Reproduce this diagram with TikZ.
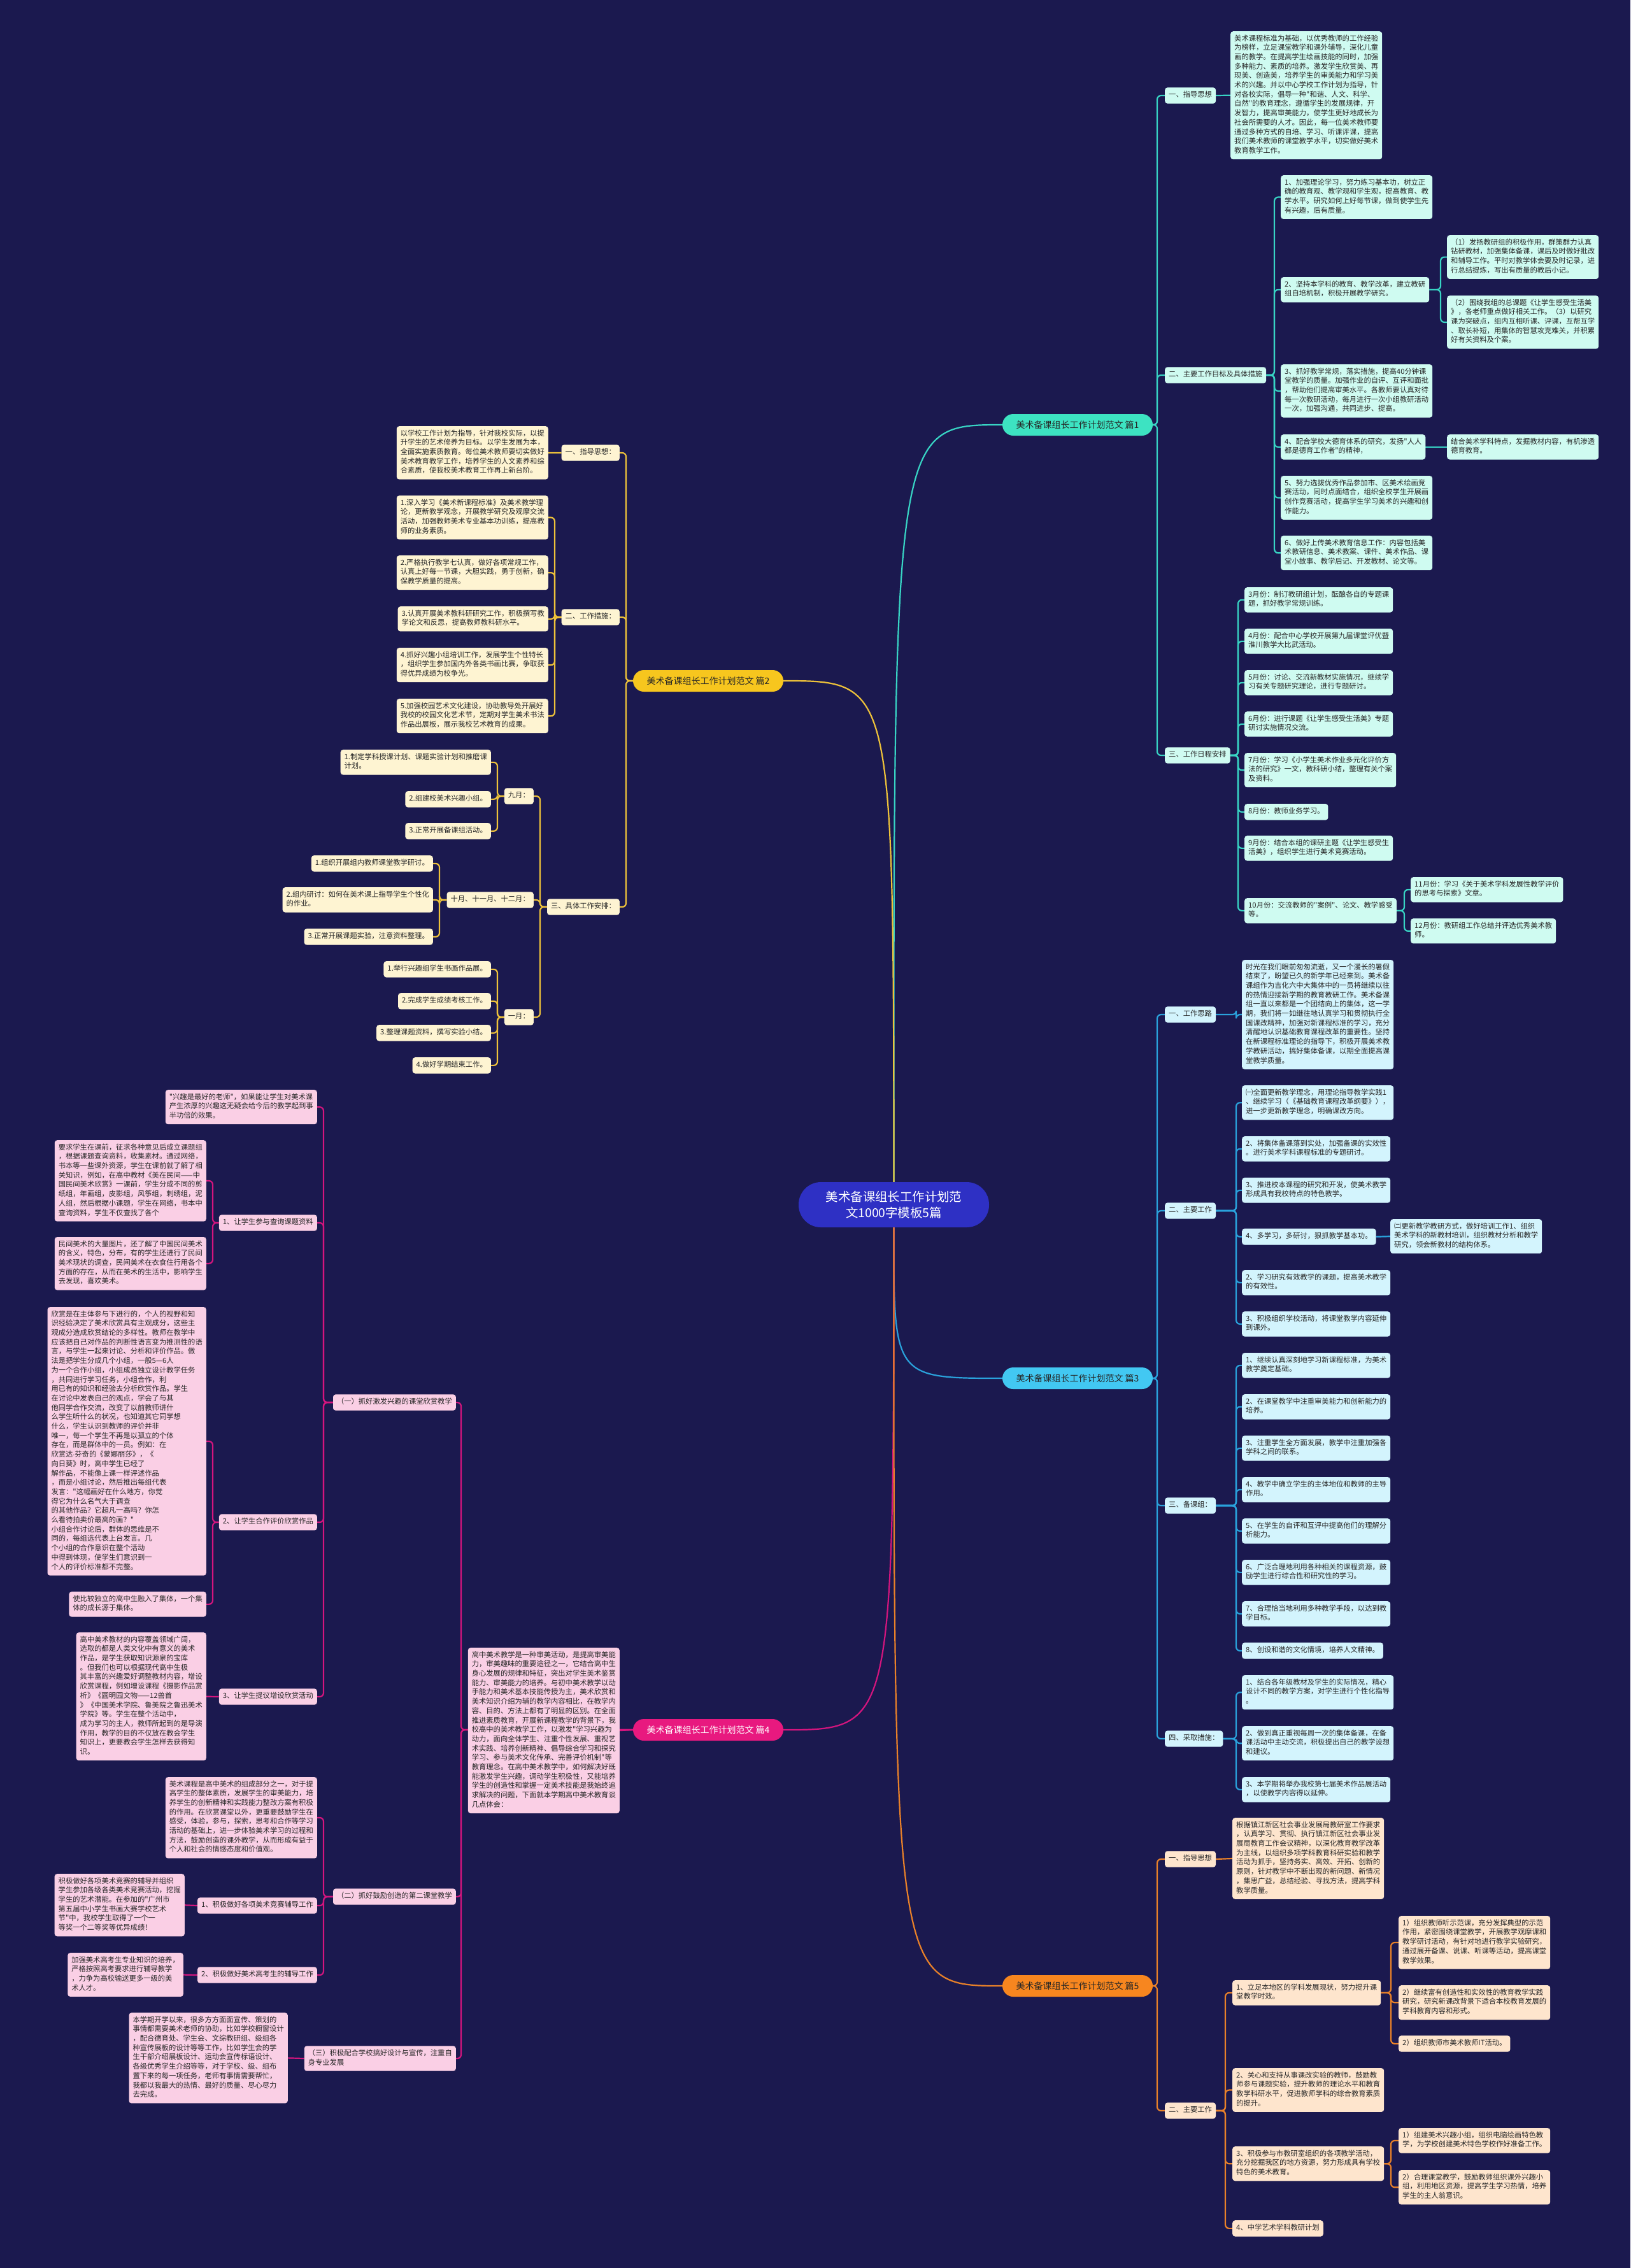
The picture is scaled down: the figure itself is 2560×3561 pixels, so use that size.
\documentclass[tikz,border=0pt]{standalone}
\usepackage{fontspec}
\newfontfamily\cjk{Noto Sans CJK SC}
\usetikzlibrary{calc}
\pgfdeclarelayer{back}
\pgfdeclarelayer{lines}
\pgfsetlayers{back,lines,main}
\definecolor{bgc}{HTML}{1B194F}
\definecolor{ctr}{HTML}{2E30C4}
\definecolor{pA}{HTML}{3DE3C2}\definecolor{cA}{HTML}{38D4C4}\definecolor{fA}{HTML}{CFFBF1}
\definecolor{pB}{HTML}{F7C61E}\definecolor{cB}{HTML}{EEC23A}\definecolor{fB}{HTML}{FEF4D2}
\definecolor{pC}{HTML}{42C8F2}\definecolor{cC}{HTML}{2AA2DC}\definecolor{fC}{HTML}{D3F4FD}
\definecolor{pD}{HTML}{E8197F}\definecolor{cD}{HTML}{D4157E}\definecolor{fD}{HTML}{FACFE5}
\definecolor{pE}{HTML}{F7861F}\definecolor{cE}{HTML}{E98129}\definecolor{fE}{HTML}{FEE5CD}
\definecolor{tx}{HTML}{262626}
\begin{document}
\begin{tikzpicture}[x=1pt,y=-1pt,
  box/.style={rounded corners=4pt, inner xsep=6pt, inner ysep=5.3pt, align=left, text=tx,
    font=\cjk\fontsize{11.3}{14.7}\selectfont, execute at begin node=\strut, execute at end node=\strut},
  bA/.style={box, fill=fA}, bB/.style={box, fill=fB}, bC/.style={box, fill=fC},
  bD/.style={box, fill=fD}, bE/.style={box, fill=fE},
  ln/.style={line width=2.2pt, rounded corners=6pt},
  lA/.style={ln, draw=cA}, lB/.style={ln, draw=cB}, lC/.style={ln, draw=cC},
  lD/.style={ln, draw=cD}, lE/.style={ln, draw=cE},
  pill/.style={rounded corners=17pt, minimum width=236pt, minimum height=34pt, inner sep=0pt,
    font=\cjk\fontsize{14}{16}\selectfont},
  nw/.style={anchor=north west}, ne/.style={anchor=north east}]
\begin{pgfonlayer}{back}
\fill[bgc] (0,0) rectangle (2560,3561);
\end{pgfonlayer}
\useasboundingbox (0,0) rectangle (2560,3561);

% centre
\node[fill=ctr, rounded corners=35pt, minimum width=299pt, minimum height=71pt, align=center, text=white,
  font=\cjk\fontsize{19.4}{25.7}\selectfont] (C) at (1403.5,1891.5) {美术备课组长工作计划范\\文1000字模板5篇};

% ================= Branch 1 =================
\node[pill, fill=pA, text=tx] (p1) at (1692,667) {美术备课组长工作计划范文 篇1};
\node[bA, anchor=west] (a1) at (1829,150) {一、指导思想};
\node[bA, nw] (a1c) at (1932,49) {美术课程标准为基础，以优秀教师的工作经验\\为榜样，立足课堂教学和课外辅导，深化儿童\\画的教学。在提高学生绘画技能的同时，加强\\多种能力、素质的培养。激发学生欣赏美、再\\现美、创造美，培养学生的审美能力和学习美\\术的兴趣。并以中心学校工作计划为指导，针\\对各校实际，倡导一种"和谐、人文、科学、\\自然"的教育理念，遵循学生的发展规律，开\\发智力，提高审美能力，使学生更好地成长为\\社会所需要的人才。因此，每一位美术教师要\\通过多种方式的自培、学习、听课评课，提高\\我们美术教师的课堂教学水平，切实做好美术\\教育教学工作。};
\node[bA, anchor=west] (a2) at (1829,589) {二、主要工作目标及具体措施};
\node[bA, nw] (a21) at (2011,275) {1、加强理论学习，努力练习基本功，树立正\\确的教育观、教学观和学生观，提高教育、教\\学水平。研究如何上好每节课，做到使学生先\\有兴趣，后有质量。};
\node[bA, nw] (a22) at (2011,435) {2、坚持本学科的教育、教学改革，建立教研\\组自培机制，积极开展教学研究。};
\node[bA, nw] (a22a) at (2272,369) {（1）发扬教研组的积极作用，群策群力认真\\钻研教材，加强集体备课，课后及时做好批改\\和辅导工作。平时对教学体会要及时记录，进\\行总结提炼，写出有质量的教后小记。};
\node[bA, nw] (a22b) at (2272,464) {（2）围绕我组的总课题《让学生感受生活美\\》，各老师重点做好相关工作。（3）以研究\\课为突破点，组内互相听课、评课，互帮互学\\、取长补短，用集体的智慧攻克难关，并积累\\好有关资料及个案。};
\node[bA, nw] (a23) at (2011,572) {3、抓好教学常规，落实措施，提高40分钟课\\堂教学的质量。加强作业的自评、互评和面批\\，帮助他们提高审美水平。各教师要认真对待\\每一次教研活动，每月进行一次小组教研活动\\一次，加强沟通，共同进步、提高。};
\node[bA, nw] (a24) at (2011,682) {4、配合学校大德育体系的研究，发扬"人人\\都是德育工作者"的精神，};
\node[bA, nw] (a24a) at (2272,682) {结合美术学科特点，发掘教材内容，有机渗透\\德育教育。};
\node[bA, nw] (a25) at (2011,747) {5、努力选拔优秀作品参加市、区美术绘画竞\\赛活动，同时点面结合，组织全校学生开展画\\创作竞赛活动，提高学生学习美术的兴趣和创\\作能力。};
\node[bA, nw] (a26) at (2011,841) {6、做好上传美术教育信息工作：内容包括美\\术教研信息、美术教案、课件、美术作品、课\\堂小故事、教学后记、开发教材、论文等。};
\node[bA, anchor=west] (a3) at (1829,1186) {三、工作日程安排};
\node[bA, nw] (m3) at (1954,922) {3月份：制订教研组计划，酝酿各自的专题课\\题，抓好教学常规训练。};
\node[bA, nw] (m4) at (1954,987) {4月份：配合中心学校开展第九届课堂评优暨\\淮川教学大比武活动。};
\node[bA, nw] (m5) at (1954,1052) {5月份：讨论、交流新教材实施情况，继续学\\习有关专题研究理论，进行专题研讨。};
\node[bA, nw] (m6) at (1954,1117) {6月份：进行课题《让学生感受生活美》专题\\研讨实施情况交流。};
\node[bA, nw] (m7) at (1954,1182) {7月份：学习《小学生美术作业多元化评价方\\法的研究》一文，教科研小结，整理有关个案\\及资料。};
\node[bA, nw] (m8) at (1954,1262) {8月份：教师业务学习。};
\node[bA, nw] (m9) at (1954,1312) {9月份：结合本组的课研主题《让学生感受生\\活美》，组织学生进行美术竞赛活动。};
\node[bA, nw] (m10) at (1954,1410) {10月份：交流教师的"案例"、论文、教学感受\\等。};
\node[bA, nw] (m11) at (2215,1377) {11月份：学习《关于美术学科发展性教学评价\\的思考与探索》文章。};
\node[bA, nw] (m12) at (2215,1442) {12月份：教研组工作总结并评选优秀美术教\\师。};

% ================= Branch 2 =================
\node[pill, fill=pB, text=tx] (p2) at (1112,1069) {美术备课组长工作计划范文 篇2};
\node[bB, anchor=east] (b1) at (973,711) {一、指导思想：};
\node[bB, ne] (b1c) at (861,669) {以学校工作计划为指导，针对我校实际，以提\\升学生的艺术修养为目标。以学生发展为本，\\全面实施素质教育。每位美术教师要切实做好\\美术教育教学工作，培养学生的人文素养和综\\合素质，使我校美术教育工作再上新台阶。};
\node[bB, anchor=east] (b2) at (973,969) {二、工作措施：};
\node[bB, ne] (b21) at (861,778) {1.深入学习《美术新课程标准》及美术教学理\\论，更新教学观念，开展教学研究及观摩交流\\活动，加强教师美术专业基本功训练，提高教\\师的业务素质。};
\node[bB, ne] (b22) at (861,872) {2.严格执行教学七认真，做好各项常规工作，\\认真上好每一节课，大胆实践，勇于创新，确\\保教学质量的提高。};
\node[bB, ne] (b23) at (861,952) {3.认真开展美术教科研研究工作，积极撰写教\\学论文和反思，提高教师教科研水平。};
\node[bB, ne] (b24) at (861,1017) {4.抓好兴趣小组培训工作，发展学生个性特长\\，组织学生参加国内外各类书画比赛，争取获\\得优异成绩为校争光。};
\node[bB, ne] (b25) at (861,1097) {5.加强校园艺术文化建设，协助教导处开展好\\我校的校园文化艺术节，定期对学生美术书法\\作品出展板，展示我校艺术教育的成果。};
\node[bB, anchor=east] (b3) at (973,1424) {三、具体工作安排：};
\node[bB, anchor=east] (b3a) at (838,1250) {九月：};
\node[bB, ne] (b3a1) at (771,1177) {1.制定学科授课计划、课题实验计划和推磨课\\计划。};
\node[bB, ne] (b3a2) at (771,1242) {2.组建校美术兴趣小组。};
\node[bB, ne] (b3a3) at (771,1292) {3.正常开展备课组活动。};
\node[bB, anchor=east] (b3b) at (838,1413) {十月、十一月、十二月：};
\node[bB, ne] (b3b1) at (680,1343) {1.组织开展组内教师课堂教学研讨。};
\node[bB, ne] (b3b2) at (680,1393) {2.组内研讨：如何在美术课上指导学生个性化\\的作业。};
\node[bB, ne] (b3b3) at (680,1458) {3.正常开展课题实验，注意资料整理。};
\node[bB, anchor=east] (b3c) at (838,1597) {一月：};
\node[bB, ne] (b3c1) at (771,1509) {1.举行兴趣组学生书画作品展。};
\node[bB, ne] (b3c2) at (771,1559) {2.完成学生成绩考核工作。};
\node[bB, ne] (b3c3) at (771,1609) {3.整理课题资料，撰写实验小结。};
\node[bB, ne] (b3c4) at (771,1660) {4.做好学期结束工作。};

% ================= Branch 3 =================
\node[pill, fill=pC, text=tx] (p3) at (1692,2164) {美术备课组长工作计划范文 篇3};
\node[bC, anchor=west] (c1) at (1829,1593) {一、工作思路};
\node[bC, nw] (c1c) at (1950,1507) {时光在我们眼前匆匆流逝，又一个漫长的暑假\\结束了，盼望已久的新学年已经来到。美术备\\课组作为吉化六中大集体中的一员将继续以往\\的热情迎接新学期的教育教研工作。美术备课\\组一直以来都是一个团结向上的集体，这一学\\期，我们将一如继往地认真学习和贯彻执行全\\国课改精神，加强对新课程标准的学习，充分\\清醒地认识基础教育课程改革的重要性。坚持\\在新课程标准理论的指导下，积极开展美术教\\学教研活动，搞好集体备课，以期全面提高课\\堂教学质量。};
\node[bC, anchor=west] (c2) at (1829,1901) {二、主要工作};
\node[bC, nw] (c21) at (1950,1704) {㈠全面更新教学理念，用理论指导教学实践1\\、继续学习（《基础教育课程改革纲要》），\\进一步更新教学理念，明确课改方向。};
\node[bC, nw] (c22) at (1950,1784) {2、将集体备课落到实处，加强备课的实效性\\。进行美术学科课程标准的专题研讨。};
\node[bC, nw] (c23) at (1950,1849) {3、推进校本课程的研究和开发，使美术教学\\形成具有我校特点的特色教学。};
\node[bC, nw] (c24) at (1950,1929) {4、多学习，多研讨，狠抓教学基本功。};
\node[bC, nw] (c24a) at (2183,1914) {㈡更新教学教研方式，做好培训工作1、组织\\美术学科的新教材培训，组织教材分析和教学\\研究，领会新教材的结构体系。};
\node[bC, nw] (c25) at (1950,1994) {2、学习研究有效教学的课题，提高美术教学\\的有效性。};
\node[bC, nw] (c26) at (1950,2059) {3、积极组织学校活动，将课堂教学内容延伸\\到课外。};
\node[bC, anchor=west] (c3) at (1829,2364) {三、备课组：};
\node[bC, nw] (c31) at (1950,2124) {1、继续认真深刻地学习新课程标准，为美术\\教学奠定基础。};
\node[bC, nw] (c32) at (1950,2189) {2、在课堂教学中注重审美能力和创新能力的\\培养。};
\node[bC, nw] (c33) at (1950,2254) {3、注重学生全方面发展，教学中注重加强各\\学科之间的联系。};
\node[bC, nw] (c34) at (1950,2319) {4、教学中确立学生的主体地位和教师的主导\\作用。};
\node[bC, nw] (c35) at (1950,2384) {5、在学生的自评和互评中提高他们的理解分\\析能力。};
\node[bC, nw] (c36) at (1950,2449) {6、广泛合理地利用各种相关的课程资源，鼓\\励学生进行综合性和研究性的学习。};
\node[bC, nw] (c37) at (1950,2514) {7、合理恰当地利用多种教学手段，以达到教\\学目标。};
\node[bC, nw] (c38) at (1950,2579) {8、创设和谐的文化情境，培养人文精神。};
\node[bC, anchor=west] (c4) at (1829,2730) {四、采取措施：};
\node[bC, nw] (c41) at (1950,2630) {1、结合各年级教材及学生的实际情况，精心\\设计不同的教学方案，对学生进行个性化指导\\。};
\node[bC, nw] (c42) at (1950,2710) {2、做到真正重视每周一次的集体备课，在备\\课活动中主动交流，积极提出自己的教学设想\\和建议。};
\node[bC, nw] (c43) at (1950,2790) {3、本学期将举办我校第七届美术作品展活动\\，以使教学内容得以延伸。};

% ================= Branch 5 =================
\node[pill, fill=pE, text=tx] (p5) at (1692,3118) {美术备课组长工作计划范文 篇5};
\node[bE, anchor=west] (e1) at (1829,2919) {一、指导思想};
\node[bE, nw] (e1c) at (1935,2854) {根据镇江新区社会事业发展局教研室工作要求\\，认真学习、贯彻、执行镇江新区社会事业发\\展局教育工作会议精神，以深化教育教学改革\\为主线，以组织多项学科教育科研实验和教学\\活动为抓手，坚持务实、高效、开拓、创新的\\原则，针对教学中不断出现的新问题、新情况\\，集思广益，总结经验、寻找方法，提高学科\\教学质量。};
\node[bE, anchor=west] (e2) at (1829,3314) {二、主要工作};
\node[bE, nw] (e21) at (1935,3109) {1、立足本地区的学科发展现状，努力提升课\\堂教学时效。};
\node[bE, nw] (e21a) at (2196,3008) {1）组织教师听示范课，充分发挥典型的示范\\作用，紧密围绕课堂教学，开展教学观摩课和\\教学研讨活动，有针对地进行教学实验研究，\\通过展开备课、说课、听课等活动，提高课堂\\教学效果。};
\node[bE, nw] (e21b) at (2196,3117) {2）继续富有创造性和实效性的教育教学实践\\研究，研究新课改背景下适合本校教育发展的\\学科教育内容和形式。};
\node[bE, nw] (e21c) at (2196,3196) {2）组织教师市美术教师IT活动。};
\node[bE, nw] (e22) at (1935,3247) {2、关心和支持从事课改实验的教师，鼓励教\\师参与课题实验，提升教师的理论水平和教育\\教学科研水平，促进教师学科的综合教育素质\\的提升。};
\node[bE, nw] (e23) at (1935,3370) {3、积极参与市教研室组织的各项教学活动，\\充分挖掘我区的地方资源，努力形成具有学校\\特色的美术教育。};
\node[bE, nw] (e23a) at (2196,3341) {1）组建美术兴趣小组，组织电脑绘画特色教\\学，为学校创建美术特色学校作好准备工作。};
\node[bE, nw] (e23b) at (2196,3407) {2）合理课堂教学，鼓励教师组织课外兴趣小\\组，利用地区资源，提高学生学习热情，培养\\学生的主人翁意识。};
\node[bE, nw] (e24) at (1935,3486) {4、中学艺术学科教研计划};

% ================= Branch 4 =================
\node[pill, fill=pD, text=white] (p4) at (1112,2716) {美术备课组长工作计划范文 篇4};
\node[bD, ne] (d0) at (973,2587) {高中美术教学是一种审美活动，是提高审美能\\力，审美趣味的重要途径之一，它结合高中生\\身心发展的规律和特征，突出对学生美术鉴赏\\能力、审美能力的培养。与初中美术教学以动\\手能力和美术基本技能传授为主，美术欣赏和\\美术知识介绍为辅的教学内容相比，在教学内\\容、目的、方法上都有了明显的区别。在全面\\推进素质教育，开展新课程教学的背景下，我\\校高中的美术教学工作，以激发"学习兴趣为\\动力，面向全体学生、注重个性发展、重视艺\\术实践、培养创新精神、倡导综合学习和探究\\学习、参与美术文化传承、完善评价机制"等\\教育理念。在高中美术教学中，如何解决好既\\能激发学生兴趣，调动学生积极性，又能培养\\学生的创造性和掌握一定美术技能是我始终追\\求解决的问题，下面就本学期高中美术教育谈\\几点体会：};
\node[bD, anchor=east] (d1) at (716,2202) {（一）抓好激发兴趣的课堂欣赏教学};
\node[bD, ne] (d1a) at (498,1711) {"兴趣是最好的老师"，如果能让学生对美术课\\产生浓厚的兴趣这无疑会给今后的教学起到事\\半功倍的效果。};
\node[bD, anchor=east] (d11) at (498,1920) {1、让学生参与查询课题资料};
\node[bD, ne] (d11a) at (324,1790) {要求学生在课前，征求各种意见后成立课题组\\，根据课题查询资料，收集素材。通过网络，\\书本等一些课外资源，学生在课前就了解了相\\关知识，例如，在高中教材《美在民间——中\\国民间美术欣赏》一课前，学生分成不同的剪\\纸组，年画组，皮影组，风筝组，刺绣组，泥\\人组，然后根据小课题，学生在网络，书本中\\查询资料，学生不仅查找了各个};
\node[bD, ne] (d11b) at (324,1942) {民间美术的大量图片，还了解了中国民间美术\\的含义，特色，分布，有的学生还进行了民间\\美术现状的调查，民间美术在衣食住行用各个\\方面的存在，从而在美术的生活中，影响学生\\去发现，喜欢美术。};
\node[bD, anchor=east] (d12) at (498,2390) {2、让学生合作评价欣赏作品};
\node[bD, ne] (d12a) at (324,2052) {欣赏是在主体参与下进行的，个人的视野和知\\识经验决定了美术欣赏具有主观成分，这些主\\观成分造成欣赏结论的多样性。教师在教学中\\应该把自己对作品的判断性语言变为推测性的语\\言，与学生一起来讨论、分析和评价作品。做\\法是把学生分成几个小组，一般5—6人\\为一个合作小组，小组成员独立设计教学任务\\，共同进行学习任务，小组合作，利\\用已有的知识和经验去分析欣赏作品。学生\\在讨论中发表自己的观点，学会了与其\\他同学合作交流，改变了以前教师讲什\\么学生听什么的状况，也知道其它同学想\\什么，学生认识到教师的评价并非\\唯一，每一个学生不再是以孤立的个体\\存在，而是群体中的一员。例如：在\\欣赏达$\cdot$芬奇的《蒙娜丽莎》，《\\向日葵》时，高中学生已经了\\解作品，不能像上课一样评述作品\\，而是小组讨论，然后推出每组代表\\发言："这幅画好在什么地方，你觉\\得它为什么名气大于调查\\的其他作品？它超凡一高吗？你怎\\么看待拍卖价最高的画？"\\小组合作讨论后，群体的思维是不\\同的，每组选代表上台发言。几\\个小组的合作意识在整个活动\\中得到体现，使学生们意识到一\\个人的评价标准都不完整。};
\node[bD, ne] (d12b) at (324,2499) {使比较独立的高中生融入了集体，一个集\\体的成长源于集体。};
\node[bD, anchor=east] (d13) at (498,2664) {3、让学生提议增设欣赏活动};
\node[bD, ne] (d13a) at (324,2563) {高中美术教材的内容覆盖领域广阔，\\选取的都是人类文化中有意义的美术\\作品，是学生获取知识源泉的宝库\\。但我们也可以根据现代高中生极\\其丰富的兴趣爱好调整教材内容，增设\\欣赏课程，例如增设课程《摄影作品赏\\析》《圆明园文物——12兽首\\》《中国美术学院、鲁美院之鲁迅美术\\学院》等。学生在整个活动中，\\成为学习的主人，教师所起到的是导演\\作用，教学的目的不仅放在教会学生\\知识上，更要教会学生怎样去获得知\\识。};
\node[bD, anchor=east] (d2) at (716,2978) {（二）抓好鼓励创造的第二课堂教学};
\node[bD, ne] (d2a) at (498,2790) {美术课程是高中美术的组成部分之一，对于提\\高学生的整体素质，发展学生的审美能力，培\\养学生的创新精神和实践能力整改方案有积极\\的作用。在欣赏课堂以外，更重要鼓励学生在\\感受，体验，参与，探索，思考和合作等学习\\活动的基础上，进一步体验美术学习的过程和\\方法，鼓励创造的课外教学，从而形成有益于\\个人和社会的情感态度和价值观。};
\node[bD, anchor=east] (d21) at (498,2992) {1、积极做好各项美术竞赛辅导工作};
\node[bD, ne] (d21a) at (290,2942) {积极做好各项美术竞赛的辅导并组织\\学生参加各级各类美术竞赛活动，挖掘\\学生的艺术潜能。在参加的"广州市\\第五届中小学生书画大赛学校艺术\\节"中，我校学生取得了一个一\\等奖一个二等奖等优异成绩！};
\node[bD, anchor=east] (d22) at (498,3101) {2、积极做好美术高考生的辅导工作};
\node[bD, ne] (d22a) at (288,3066) {加强美术高考生专业知识的培养，\\严格按照高考要求进行辅导教学\\，力争为高校输送更多一级的美\\术人才。};
\node[bD, anchor=east, align=left] (d3) at (716,3232) {（三）积极配合学校搞好设计与宣传，注重自\\身专业发展};
\node[bD, ne] (d3a) at (452,3160) {本学期开学以来，很多方方面面宣传、策划的\\事情都需要美术老师的协助，比如学校橱窗设计\\，配合德育处、学生会、文综教研组、级组各\\种宣传展板的设计等等工作，比如学生会的学\\生干部介绍展板设计、运动会宣传标语设计、\\各级优秀学生介绍等等，对于学校、级、组布\\置下来的每一项任务，老师有事情需要帮忙，\\我都以我最大的热情、最好的质量、尽心尽力\\去完成。};

% ================= connectors =================
\begin{pgfonlayer}{lines}
\draw[lA] (C.north) .. controls (1403,667) .. (p1.west);
\draw[lB] (C.north) .. controls (1403,1069) .. (p2.east);
\draw[lC] (C.south) .. controls (1403,2164) .. (p3.west);
\draw[lD] (C.south) .. controls (1403,2716) .. (p4.east);
\draw[lE] (C.south) .. controls (1403,3118) .. (p5.west);
% B1
\foreach \c in {a1,a2,a3} \draw[lA] (\c.west) -- ++(-12,0) |- (p1.east);
\draw[lA] (a1c.west) -- (a1.east);
\foreach \c in {a21,a22,a23,a24,a25,a26} \draw[lA] (\c.west) -- ++(-10,0) |- (a2.east);
\foreach \c in {a22a,a22b} \draw[lA] (\c.west) -- ++(-10,0) |- (a22.east);
\draw[lA] (a24a.west) -- (a24.east);
\foreach \c in {m3,m4,m5,m6,m7,m8,m9,m10} \draw[lA] (\c.west) -- ++(-10,0) |- (a3.east);
\foreach \c in {m11,m12} \draw[lA] (\c.west) -- ++(-10,0) |- (m10.east);
% B2
\foreach \c in {b1,b2,b3} \draw[lB] (\c.east) -- ++(10,0) |- (p2.west);
\draw[lB] (b1c.east) -- (b1.west);
\foreach \c in {b21,b22,b23,b24,b25} \draw[lB] (\c.east) -- ++(10,0) |- (b2.west);
\foreach \c in {b3a,b3b,b3c} \draw[lB] (\c.east) -- ++(10,0) |- (b3.west);
\foreach \c in {b3a1,b3a2,b3a3} \draw[lB] (\c.east) -- ++(10,0) |- (b3a.west);
\foreach \c in {b3b1,b3b2,b3b3} \draw[lB] (\c.east) -- ++(10,0) |- (b3b.west);
\foreach \c in {b3c1,b3c2,b3c3,b3c4} \draw[lB] (\c.east) -- ++(10,0) |- (b3c.west);
% B3
\foreach \c in {c1,c2,c3,c4} \draw[lC] (\c.west) -- ++(-12,0) |- (p3.east);
\draw[lC] (c1c.west) -- ++(-9,0) |- (c1.east);
\foreach \c in {c21,c22,c23,c24,c25,c26} \draw[lC] (\c.west) -- ++(-9,0) |- (c2.east);
\draw[lC] (c24a.west) -- (c24.east);
\foreach \c in {c31,c32,c33,c34,c35,c36,c37,c38} \draw[lC] (\c.west) -- ++(-9,0) |- (c3.east);
\foreach \c in {c41,c42,c43} \draw[lC] (\c.west) -- ++(-9,0) |- (c4.east);
% B5
\foreach \c in {e1,e2} \draw[lE] (\c.west) -- ++(-12,0) |- (p5.east);
\draw[lE] (e1c.west) -- (e1.east);
\foreach \c in {e21,e22,e23,e24} \draw[lE] (\c.west) -- ++(-11,0) |- (e2.east);
\foreach \c in {e21a,e21b,e21c} \draw[lE] (\c.west) -- ++(-12,0) |- (e21.east);
\foreach \c in {e23a,e23b} \draw[lE] (\c.west) -- ++(-12,0) |- (e23.east);
% B4
\foreach \c in {d1,d2,d3} \draw[lD] (\c.east) -- ++(8,0) |- (p4.west);
\draw[lD] (d0.east) -- (p4.west);
\foreach \c in {d1a,d11,d12,d13} \draw[lD] (\c.east) -- ++(10,0) |- (d1.west);
\foreach \c in {d11a,d11b} \draw[lD] (\c.east) -- ++(10,0) |- (d11.west);
\foreach \c in {d12a,d12b} \draw[lD] (\c.east) -- ++(10,0) |- (d12.west);
\draw[lD] (d13a.east) -- (d13.west);
\foreach \c in {d2a,d21,d22} \draw[lD] (\c.east) -- ++(10,0) |- (d2.west);
\draw[lD] (d21a.east) -- (d21.west);
\draw[lD] (d22a.east) -- (d22.west);
\draw[lD] (d3a.east) -- (d3.west);
\end{pgfonlayer}
\end{tikzpicture}
\end{document}
